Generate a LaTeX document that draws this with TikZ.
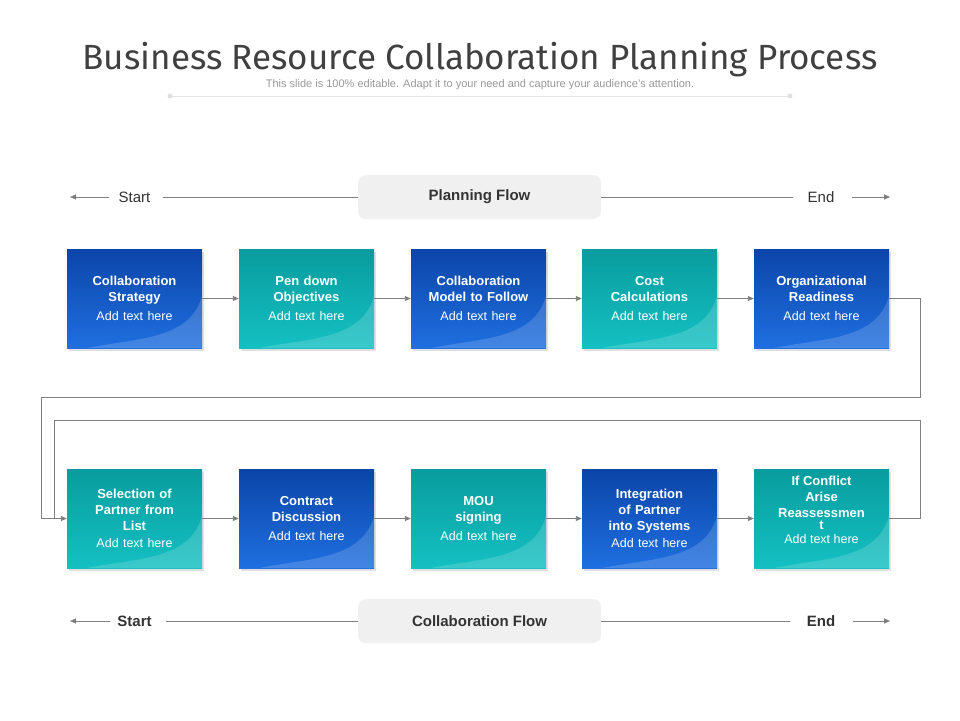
\documentclass[tikz,border=0pt]{standalone}
\usepackage{fontspec}
\setmainfont{Liberation Sans}
\newfontfamily\titlefont{Fira Sans}
\usetikzlibrary{arrows.meta,calc}
\definecolor{bdark}{HTML}{0B45A8}
\definecolor{blight}{HTML}{1F6FE0}
\definecolor{tdark}{HTML}{099C9E}
\definecolor{tlight}{HTML}{14C0C2}
\definecolor{lgray}{HTML}{7F7F7F}
\tikzset{
  box/.style={minimum width=135pt,minimum height=99pt,inner sep=2pt,text width=128pt,align=center,
    text=white,font=\fontsize{13}{16}\selectfont\bfseries,
    path picture={\fill[white,opacity=.16] ($(path picture bounding box.south west)+(20,0)$)
      .. controls ($(path picture bounding box.south west)+(70,-10)$) and ($(path picture bounding box.south east)+(-12,-8)$) ..
      ($(path picture bounding box.south east)+(0,-52)$) -- (path picture bounding box.south east) -- cycle;}},
  bluebox/.style={box,top color=bdark,bottom color=blight},
  tealbox/.style={box,top color=tdark,bottom color=tlight},
  shad/.style={fill=black,opacity=.12},
  conn/.style={draw=lgray,line width=0.9pt},
  arr/.style={conn,-{Triangle[length=6pt,width=5pt]}},
  flowhdr/.style={fill=gray!12,rounded corners=8pt,minimum width=243pt,minimum height=44pt,font=\fontsize{15}{17}\selectfont\bfseries,text=black!80},
  flowtxt/.style={font=\fontsize{15}{17}\selectfont,text=black!80},
  addt/.style={text=white,font=\fontsize{12.5}{14}\selectfont}
}
\newcommand{\addtxt}{\\[3pt]{\mdseries\fontsize{12.5}{14}\selectfont Add text here}}
\begin{document}
\begin{tikzpicture}[x=1pt,y=-1pt]
\useasboundingbox (0,0) rectangle (960,720);
\fill[white] (0,0) rectangle (960,720);
\node[font=\titlefont\fontsize{35}{40}\selectfont,text=black!75] (title) at (480,60) {Business Resource Collaboration Planning Process};
\node[font=\fontsize{11}{12}\selectfont,text=gray!80] (subt) at (480,85) {This slide is 100\% editable. Adapt it to your need and capture your audience’s attention.};
\draw[gray!20,line width=0.8pt] (170,96) -- (790,96);
\fill[gray!25] (170,96) circle (2.5) (790,96) circle (2.5);
% shadows
\foreach \x in {67,239,411,582,754}{
  \fill[shad] (\x+2,249+3) rectangle (\x+137,348+3);
  \fill[shad] (\x+2,469+3) rectangle (\x+137,568+3);}
% row 1
\node[bluebox] (b1) at (134.5,298.5) {Collaboration\\Strategy\addtxt};
\node[tealbox] (b2) at (306.5,298.5) {Pen down\\Objectives\addtxt};
\node[bluebox] (b3) at (478.5,298.5) {Collaboration\\Model to Follow\addtxt};
\node[tealbox] (b4) at (649.5,298.5) {Cost\\Calculations\addtxt};
\node[bluebox] (b5) at (821.5,298.5) {Organizational\\Readiness\addtxt};
% row 2
\node[tealbox] (b6) at (134.5,518.5) {Selection of\\Partner from\\List\\[1pt]{\mdseries\fontsize{12.5}{14}\selectfont Add text here}};
\node[bluebox] (b7) at (306.5,518.5) {Contract\\Discussion\addtxt};
\node[tealbox] (b8) at (478.5,518.5) {MOU\\signing\addtxt};
\node[bluebox] (b9) at (649.5,518.5) {Integration\\of Partner\\into Systems\\[1pt]{\mdseries\fontsize{12.5}{14}\selectfont Add text here}};
\node[tealbox] (b10) at (821.5,518.5) {};
\node[text=white,font=\fontsize{13}{16}\selectfont\bfseries,align=center,inner sep=0pt] (b10t) at (821.5,503) {If Conflict\\Arise\\Reassessmen\\[-4pt]t};
\node[addt,inner sep=0pt] (b10a) at (821.5,539) {Add text here};
\foreach \a/\b in {b1/b2,b2/b3,b3/b4,b4/b5,b6/b7,b7/b8,b8/b9,b9/b10}
  \draw[arr] (\a.east) -- (\b.west);
\coordinate (j) at (41,518.5);
\draw[conn] (b5.east) -- (920,298.5) -- (920,397) -- (41,397) -- (j);
\draw[conn] (b10.east) -- (920,518.5) -- (920,420) -- (54,420) -- (54,518.5);
\draw[arr] (j) -- (b6.west);
% flows
\node[flowhdr] (pf) at (479.5,197) {Planning Flow};
\node[flowtxt] (s1) at (134.5,197) {Start};
\node[flowtxt] (e1) at (821,197) {End};
\coordinate (s1a) at (70,197); \coordinate (e1a) at (890,197);
\draw[conn] (163,197) -- (pf.west) (pf.east) -- (793,197);
\draw[arr] (s1.west) ++(-6,0) -- (s1a);
\draw[arr] (e1.east) ++(14,0) -- (e1a);
\node[flowhdr] (cf) at (479.5,621) {Collaboration Flow};
\node[flowtxt,font=\fontsize{15}{17}\selectfont\bfseries] (s2) at (134.5,621) {Start};
\node[flowtxt,font=\fontsize{15}{17}\selectfont\bfseries] (e2) at (821,621) {End};
\coordinate (s2a) at (70,621); \coordinate (e2a) at (890,621);
\draw[conn] (166,621) -- (cf.west) (cf.east) -- (790,621);
\draw[arr] (s2.west) ++(-4,0) -- (s2a);
\draw[arr] (e2.east) ++(14,0) -- (e2a);
\end{tikzpicture}
\end{document}
